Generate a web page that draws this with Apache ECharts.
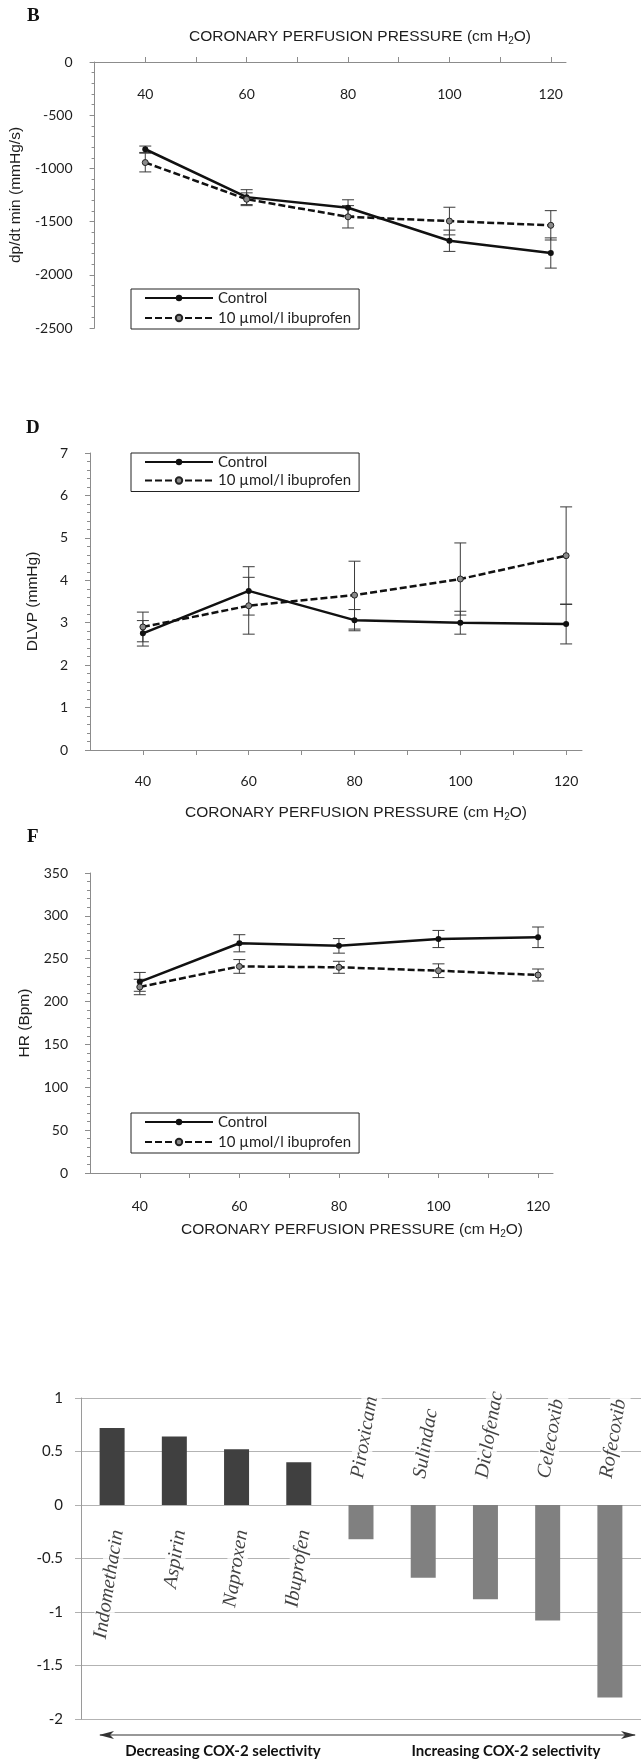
<!DOCTYPE html>
<html>
<head>
<meta charset="utf-8">
<script src="https://cdn.jsdelivr.net/npm/echarts@6/dist/echarts.min.js"></script>
<style>
html, body { margin: 0; padding: 0; background: #fff; }
#main { width: 641px; height: 1763px; }
</style>
</head>
<body>
<div id="main"></div>
<script>
// x values of the three perfusion panels
var pressure = [40, 60, 80, 100, 120];
var pressureTicks = [40, 50, 60, 70, 80, 90, 100, 110, 120];
var seriesNames = ['Control', '10 µmol/l ibuprofen'];

// panel B : dp/dt min (mmHg/s)
var bControl = [-820, -1270, -1370, -1680, -1795];
var bControlErr = [30, 70, 75, 100, 142];
var bIbu = [-945, -1290, -1455, -1495, -1535];
var bIbuErr = [88, 60, 105, 130, 138];

// panel D : DLVP (mmHg)
var dControl = [2.75, 3.75, 3.06, 3.00, 2.97];
var dControlErr = [0.30, 0.57, 0.25, 0.27, 0.47];
var dIbu = [2.90, 3.40, 3.65, 4.03, 4.58];
var dIbuErr = [0.35, 0.67, 0.80, 0.85, 1.15];

// panel F : HR (Bpm)
var fControl = [223, 268, 265, 273, 275];
var fControlErr = [11, 10, 8.5, 10, 12];
var fIbu = [217, 241, 240, 236, 231];
var fIbuErr = [9, 8, 7, 8, 7];

// bottom bar chart
var drugs = ['Indomethacin', 'Aspirin', 'Naproxen', 'Ibuprofen', 'Piroxicam', 'Sulindac', 'Diclofenac', 'Celecoxib', 'Rofecoxib'];
var selectivity = [0.72, 0.64, 0.52, 0.40, -0.32, -0.68, -0.88, -1.08, -1.80];

var axisGray = '#8c8c8c';
var ink = '#1e1e1e';
var numFont = 'Lato';
var nameFont = 'Liberation Sans';

var myChart = echarts.init(document.getElementById('main'));

function renderError(params, api) {
    var x = api.value(0);
    var lo = api.coord([x, api.value(1)]);
    var hi = api.coord([x, api.value(2)]);
    var w = 6;
    var st = { stroke: '#3a3a3a', lineWidth: 1 };
    return {
        type: 'group',
        children: [
            { type: 'line', shape: { x1: lo[0], y1: lo[1], x2: hi[0], y2: hi[1] }, style: st },
            { type: 'line', shape: { x1: lo[0] - w, y1: lo[1], x2: lo[0] + w, y2: lo[1] }, style: st },
            { type: 'line', shape: { x1: hi[0] - w, y1: hi[1], x2: hi[0] + w, y2: hi[1] }, style: st }
        ]
    };
}

function errSeries(idx, vals, errs) {
    return {
        type: 'custom', xAxisIndex: idx, yAxisIndex: idx, z: 2, silent: true,
        data: pressure.map(function (p, i) { return [p, vals[i] - errs[i], vals[i] + errs[i]]; }),
        encode: { x: 0, y: [1, 2] },
        renderItem: renderError
    };
}

function lineSeries(idx, name, vals, dashed) {
    return {
        name: name, type: 'line', xAxisIndex: idx, yAxisIndex: idx, z: 3,
        data: pressure.map(function (p, i) { return [p, vals[i]]; }),
        symbol: 'circle', symbolSize: 6,
        lineStyle: { color: '#111', width: 2.5, type: dashed ? [7, 3] : 'solid' },
        itemStyle: dashed ? { color: '#8a8a8a', borderColor: '#222', borderWidth: 1 } : { color: '#111' }
    };
}

function pressureAxis(idx, pos, inside, margin) {
    return {
        type: 'value', gridIndex: idx, position: pos, min: 30, max: 123,
        axisLine: { onZero: false, lineStyle: { color: axisGray } },
        axisTick: { customValues: pressureTicks, length: 5, lineStyle: { color: axisGray } },
        axisLabel: { customValues: pressure, inside: inside, margin: margin,
            fontFamily: numFont, fontSize: 14, color: ink },
        splitLine: { show: false }
    };
}

function plain(v) { return String(v); }

function valueAxis(idx, min, max, step, name, gap) {
    return {
        type: 'value', gridIndex: idx, min: min, max: max, interval: step,
        name: name, nameLocation: 'middle', nameGap: gap,
        nameTextStyle: { fontFamily: nameFont, fontSize: 15.5, color: ink },
        axisLine: { show: true, lineStyle: { color: axisGray } },
        axisTick: { show: true, length: 5, lineStyle: { color: axisGray } },
        minorTick: { show: true, splitNumber: 5, length: 3, lineStyle: { color: axisGray } },
        axisLabel: { margin: 22, fontFamily: numFont, fontSize: 14, color: ink, formatter: plain },
        splitLine: { show: false }
    };
}

function legendBox(top, gap) {
    return {
        left: 131, top: top, orient: 'vertical', data: seriesNames,
        itemWidth: 68, itemHeight: 8, itemGap: gap, padding: [1, 8, 3, 13],
        borderColor: '#222', borderWidth: 1, selectedMode: false,
        textStyle: { fontFamily: numFont, fontSize: 15, color: ink, lineHeight: 16 }
    };
}

function axisTitle(x, y) {
    return {
        type: 'text', x: x, y: y,
        style: {
            text: 'CORONARY PERFUSION PRESSURE (cm H{s|2}O)',
            align: 'center', verticalAlign: 'middle',
            fontFamily: nameFont, fontSize: 15.5, fill: ink, lineHeight: 18,
            rich: { s: { fontFamily: nameFont, fontSize: 10, verticalAlign: 'bottom', fill: ink } }
        }
    };
}

function panelLetter(t, x, y) {
    return { type: 'text', x: x, y: y,
        style: { text: t, fontFamily: 'Liberation Serif', fontWeight: 'bold', fontSize: 19, fill: '#111', verticalAlign: 'middle' } };
}

var labelData = drugs.map(function (d, i) {
    var up = selectivity[i] >= 0;
    return {
        name: d, value: [d, 0],
        label: { position: up ? [6, 22] : [-4, -24], align: up ? 'right' : 'left',
            verticalAlign: 'middle', rotate: up ? 81 : 80 }
    };
});

var option = {
    animation: false,
    backgroundColor: '#fff',
    grid: [
        { left: 90, top: 62, width: 476, height: 266 },
        { left: 90, top: 453, width: 492, height: 297 },
        { left: 90, top: 873, width: 463, height: 300 },
        { left: 81, top: 1398, width: 567, height: 321 }
    ],
    xAxis: [
        pressureAxis(0, 'top', true, 25),
        pressureAxis(1, 'bottom', false, 24),
        pressureAxis(2, 'bottom', false, 26),
        { type: 'category', gridIndex: 3, data: drugs, show: false }
    ],
    yAxis: [
        valueAxis(0, -2500, 0, 500, 'dp/dt min (mmHg/s)', 61),
        valueAxis(1, 0, 7, 1, 'DLVP (mmHg)', 49),
        valueAxis(2, 0, 350, 50, 'HR (Bpm)', 51),
        {
            type: 'value', gridIndex: 3, min: -2, max: 1, interval: 0.5,
            axisLine: { show: true, lineStyle: { color: '#9a9a9a' } },
            axisTick: { show: true, length: 6, lineStyle: { color: '#b0b0b0' } },
            axisLabel: { margin: 18, fontFamily: numFont, fontSize: 15, color: ink, formatter: plain },
            splitLine: { show: true, lineStyle: { color: '#b3b3b3', width: 1 } }
        }
    ],
    legend: [legendBox(289, 4), legendBox(453, 2.5), legendBox(1113, 4)],
    series: [
        errSeries(0, bControl, bControlErr),
        errSeries(0, bIbu, bIbuErr),
        lineSeries(0, seriesNames[0], bControl, false),
        lineSeries(0, seriesNames[1], bIbu, true),
        errSeries(1, dControl, dControlErr),
        errSeries(1, dIbu, dIbuErr),
        lineSeries(1, seriesNames[0], dControl, false),
        lineSeries(1, seriesNames[1], dIbu, true),
        errSeries(2, fControl, fControlErr),
        errSeries(2, fIbu, fIbuErr),
        lineSeries(2, seriesNames[0], fControl, false),
        lineSeries(2, seriesNames[1], fIbu, true),
        {
            type: 'bar', xAxisIndex: 3, yAxisIndex: 3, barWidth: 25, z: 2,
            data: selectivity.map(function (v) {
                return { value: v, itemStyle: { color: v >= 0 ? '#404040' : '#808080' } };
            })
        },
        {
            type: 'scatter', xAxisIndex: 3, yAxisIndex: 3, symbolSize: 0.01, silent: true, z: 5,
            itemStyle: { color: 'transparent' },
            label: { show: true, formatter: '{b}', fontFamily: 'Liberation Serif', fontStyle: 'italic',
                fontSize: 20, color: '#111', backgroundColor: '#fff', padding: [0, 3] },
            data: labelData
        }
    ],
    graphic: [
        panelLetter('B', 27, 16),
        panelLetter('D', 26, 428),
        panelLetter('F', 27, 837),
        axisTitle(360, 37),
        axisTitle(356, 813),
        axisTitle(352, 1230),
        { type: 'line', shape: { x1: 100, y1: 1735, x2: 635, y2: 1735 }, style: { stroke: '#333', lineWidth: 1.2 } },
        { type: 'polygon', shape: { points: [[99, 1735], [114, 1731], [110, 1735], [114, 1739]] }, style: { fill: '#333' } },
        { type: 'polygon', shape: { points: [[636, 1735], [621, 1731], [625, 1735], [621, 1739]] }, style: { fill: '#333' } },
        { type: 'text', x: 223, y: 1751, style: { text: 'Decreasing COX-2 selectivity', align: 'center', verticalAlign: 'middle',
            fontFamily: numFont, fontWeight: 'bold', fontSize: 15, fill: '#111' } },
        { type: 'text', x: 506, y: 1751, style: { text: 'Increasing COX-2 selectivity', align: 'center', verticalAlign: 'middle',
            fontFamily: numFont, fontWeight: 'bold', fontSize: 15, fill: '#111' } }
    ]
};

myChart.setOption(option);
</script>
</body>
</html>
